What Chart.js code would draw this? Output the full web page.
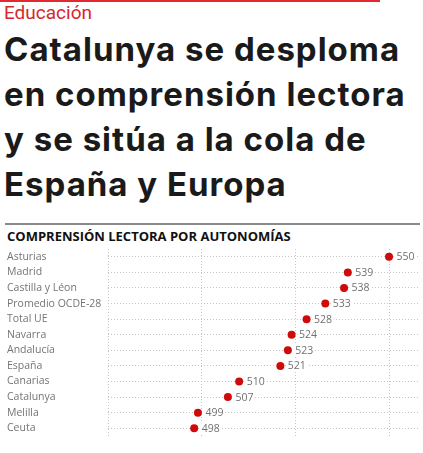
<!DOCTYPE html>
<html>
<head>
<meta charset="utf-8">
<script src="https://cdn.jsdelivr.net/npm/chart.js@4/dist/chart.umd.min.js"></script>
<style>
  body { margin: 0; background: #fff; width: 423px; height: 453px; overflow: hidden; position: relative; }
  #redbar { position: absolute; left: 0; top: 0; width: 380px; height: 2px; background: #e3282f; }
  #section { position: absolute; left: 4px; top: 1px; font: 19px Roboto, sans-serif; color: #d8262d; }
  #title { position: absolute; left: 4px; top: 27px; font: bold 33px Inter, sans-serif; line-height: 45px; color: #1a1a1a; letter-spacing: 1px; }
  #rule { position: absolute; left: 5px; top: 223px; width: 415px; height: 2px; background: #8a8a8a; }
  #subtitle { position: absolute; left: 7px; top: 227px; font: bold 13px "Open Sans", sans-serif; color: #111; }
  #wrap { position: absolute; left: 0; top: 242px; width: 423px; height: 211px; }
</style>
</head>
<body>
<div id="redbar"></div>
<div id="section">Educación</div>
<div id="title">Catalunya se desploma<br>en comprensión lectora<br>y se sitúa a la cola de<br>España y Europa</div>
<div id="rule"></div>
<div id="subtitle">COMPRENSIÓN LECTORA POR AUTONOMÍAS</div>
<div id="wrap"><canvas id="myChart"></canvas></div>
<script>
const regions = ['Asturias', 'Madrid', 'Castilla y Léon', 'Promedio OCDE-28', 'Total UE', 'Navarra',
  'Andalucía', 'España', 'Canarias', 'Catalunya', 'Melilla', 'Ceuta'];
const scores = [550, 539, 538, 533, 528, 524, 523, 521, 510, 507, 499, 498];
const xTicks = [475, 500, 525, 550];

var red = '#cf0a0a';
var grey = '#707070';

const valueLabels = {
  id: 'valueLabels',
  afterDatasetsDraw(chart) {
    const ctx = chart.ctx;
    const meta = chart.getDatasetMeta(0);
    ctx.save();
    ctx.font = '10.5px "Open Sans"';
    ctx.textBaseline = 'middle';
    meta.data.forEach(function (pt, i) {
      var txt = String(scores[i]);
      var w = ctx.measureText(txt).width;
      ctx.fillStyle = '#fff';
      ctx.fillRect(pt.x + 6, pt.y - 6, w + 3, 12);
      ctx.fillStyle = grey;
      ctx.fillText(txt, pt.x + 7.5, pt.y + 0.5);
    });
    ctx.restore();
  }
};

const config = {
  type: 'line',
  data: {
    labels: regions,
    datasets: [{
      data: scores,
      showLine: false,
      pointRadius: 4,
      pointHoverRadius: 4,
      pointBackgroundColor: red,
      pointBorderColor: red,
      pointBorderWidth: 0
    }]
  },
  plugins: [valueLabels],
  options: {
    indexAxis: 'y',
    animation: false,
    responsive: true,
    maintainAspectRatio: false,
    plugins: { legend: { display: false }, tooltip: { enabled: false } },
    layout: { padding: { left: 7, right: 3, top: 7, bottom: 17 } },
    scales: {
      x: {
        type: 'linear',
        min: 475,
        max: 558,
        afterBuildTicks: function (axis) {
          axis.ticks = xTicks.map(function (v) { return { value: v }; });
        },
        afterFit: function (axis) { axis.height = 0; },
        ticks: { display: false },
        border: { display: false, dash: [1, 2] },
        grid: { color: '#c4c4c4', lineWidth: 1, drawTicks: false }
      },
      y: {
        type: 'category',
        offset: true,
        afterFit: function (axis) { axis.width = 101; },
        border: { display: false, dash: [1, 2] },
        grid: { color: '#c4c4c4', lineWidth: 1, drawTicks: false, offset: false },
        ticks: {
          autoSkip: false,
          crossAlign: 'far',
          padding: 0,
          color: '#747474',
          font: { family: 'Open Sans', size: 10.5 }
        }
      }
    }
  }
};

new Chart(document.getElementById('myChart'), config);
</script>
</body>
</html>
